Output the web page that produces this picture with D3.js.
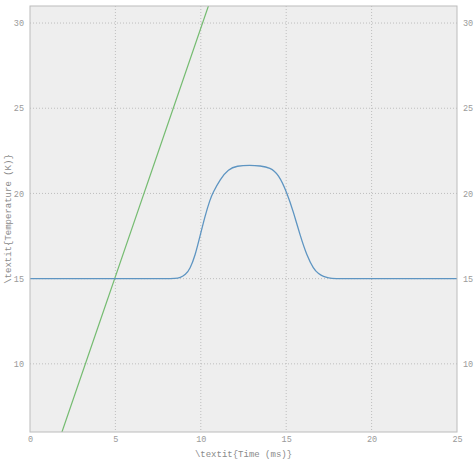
<!DOCTYPE html>
<html>
<head>
<meta charset="utf-8">
<script src="https://cdn.jsdelivr.net/npm/d3@7"></script>
<style>
  body { margin: 0; background: #fff; }
  .tick text { font-family: "Liberation Mono", "DejaVu Sans Mono", monospace; font-size: 8.5px; fill: #9a9a9a; }
  .axisLabel { font-family: "Liberation Mono", "DejaVu Sans Mono", monospace; font-size: 9px; fill: #8a8a8a; }
</style>
</head>
<body>
<div id="chart"></div>
<script>
// tick labels
const xTicks = [0, 5, 10, 15, 20, 25];
const yTicks = [10, 15, 20, 25, 30];

// blue series: temperature pulse
const pulseTime = [0, 2, 4, 6, 8, 8.5, 8.8, 9.1, 9.37, 9.67, 9.96, 10.25, 10.55, 10.7, 11.13, 11.62, 12.1, 12.89, 13.47, 14.06, 14.55, 15.04, 15.43, 15.82, 16.21, 16.6, 16.9, 17.18, 17.5, 17.77, 19, 21, 23, 25];
const pulseTemp = [15, 15, 15, 15, 15, 15.01, 15.06, 15.22, 15.57, 16.35, 17.52, 18.69, 19.67, 20.02, 20.84, 21.43, 21.62, 21.66, 21.62, 21.52, 21.13, 20.06, 18.89, 17.52, 16.35, 15.57, 15.28, 15.12, 15.04, 15.0, 15, 15, 15, 15];

// green series: straight line
const lineTime = [0, 12];
const lineTemp = [0.55, 35.53];

const width = 474;
const height = 460;
const margin = {top: 6, left: 30, right: 17, bottom: 28};

const svg = d3.select("#chart")
    .append("svg")
    .attr("width", width)
    .attr("height", height);

const xScale = d3.scaleLinear()
    .domain([0, 25])
    .range([margin.left, width - margin.right]);

const yScale = d3.scaleLinear()
    .domain([6, 31])
    .range([height - margin.bottom, margin.top]);

// plot background
svg.append("rect")
    .attr("x", margin.left)
    .attr("y", margin.top)
    .attr("width", width - margin.left - margin.right)
    .attr("height", height - margin.top - margin.bottom)
    .attr("fill", "#eeeeee");

svg.append("clipPath")
    .attr("id", "plotClip")
    .append("rect")
    .attr("x", margin.left)
    .attr("y", margin.top)
    .attr("width", width - margin.left - margin.right)
    .attr("height", height - margin.top - margin.bottom);

// grid
svg.append("g")
    .selectAll("line")
    .data(xTicks.slice(1, -1))
    .enter()
    .append("line")
    .attr("x1", d => xScale(d)).attr("x2", d => xScale(d))
    .attr("y1", margin.top).attr("y2", height - margin.bottom)
    .attr("stroke", "#b2b2b2")
    .attr("stroke-width", 0.8)
    .attr("stroke-dasharray", "1,2");

svg.append("g")
    .selectAll("line")
    .data(yTicks)
    .enter()
    .append("line")
    .attr("x1", margin.left).attr("x2", width - margin.right)
    .attr("y1", d => yScale(d)).attr("y2", d => yScale(d))
    .attr("stroke", "#b2b2b2")
    .attr("stroke-width", 0.8)
    .attr("stroke-dasharray", "1,2");

// axes (labels only, spines drawn below)
const xAxis = svg.append("g")
    .attr("transform", `translate(0,${height - margin.bottom})`)
    .call(d3.axisBottom(xScale).tickValues(xTicks).tickSize(0).tickPadding(4));

const yAxisL = svg.append("g")
    .attr("transform", `translate(${margin.left},0)`)
    .call(d3.axisLeft(yScale).tickValues(yTicks).tickSize(0).tickPadding(6));

const yAxisR = svg.append("g")
    .attr("transform", `translate(${width - margin.right},0)`)
    .call(d3.axisRight(yScale).tickValues(yTicks).tickSize(0).tickPadding(6));

svg.selectAll(".domain").remove();

// lines
const pulse = pulseTime.map((t, i) => ({x: t, y: pulseTemp[i]}));
const straight = lineTime.map((t, i) => ({x: t, y: lineTemp[i]}));

svg.append("path")
    .datum(straight)
    .attr("clip-path", "url(#plotClip)")
    .attr("d", d3.line().x(d => xScale(d.x)).y(d => yScale(d.y)))
    .attr("fill", "none")
    .attr("stroke", "#74bb70")
    .attr("stroke-width", 1.2);

svg.append("path")
    .datum(pulse)
    .attr("clip-path", "url(#plotClip)")
    .attr("d", d3.line().x(d => xScale(d.x)).y(d => yScale(d.y)).curve(d3.curveBasis))
    .attr("fill", "none")
    .attr("stroke", "#5e95c2")
    .attr("stroke-width", 1.3);

// frame
svg.append("rect")
    .attr("x", margin.left)
    .attr("y", margin.top)
    .attr("width", width - margin.left - margin.right)
    .attr("height", height - margin.top - margin.bottom)
    .attr("fill", "none")
    .attr("stroke", "#bcbcbc")
    .attr("stroke-width", 1);

// axis labels
svg.append("text")
    .attr("class", "axisLabel")
    .attr("x", (margin.left + width - margin.right) / 2)
    .attr("y", height - 3)
    .attr("text-anchor", "middle")
    .text("\\textit{Time (ms)}");

svg.append("text")
    .attr("class", "axisLabel")
    .attr("x", -(margin.top + height - margin.bottom) / 2)
    .attr("y", 11)
    .attr("text-anchor", "middle")
    .attr("transform", "rotate(-90)")
    .text("\\textit{Temperature (K)}");
</script>
</body>
</html>
